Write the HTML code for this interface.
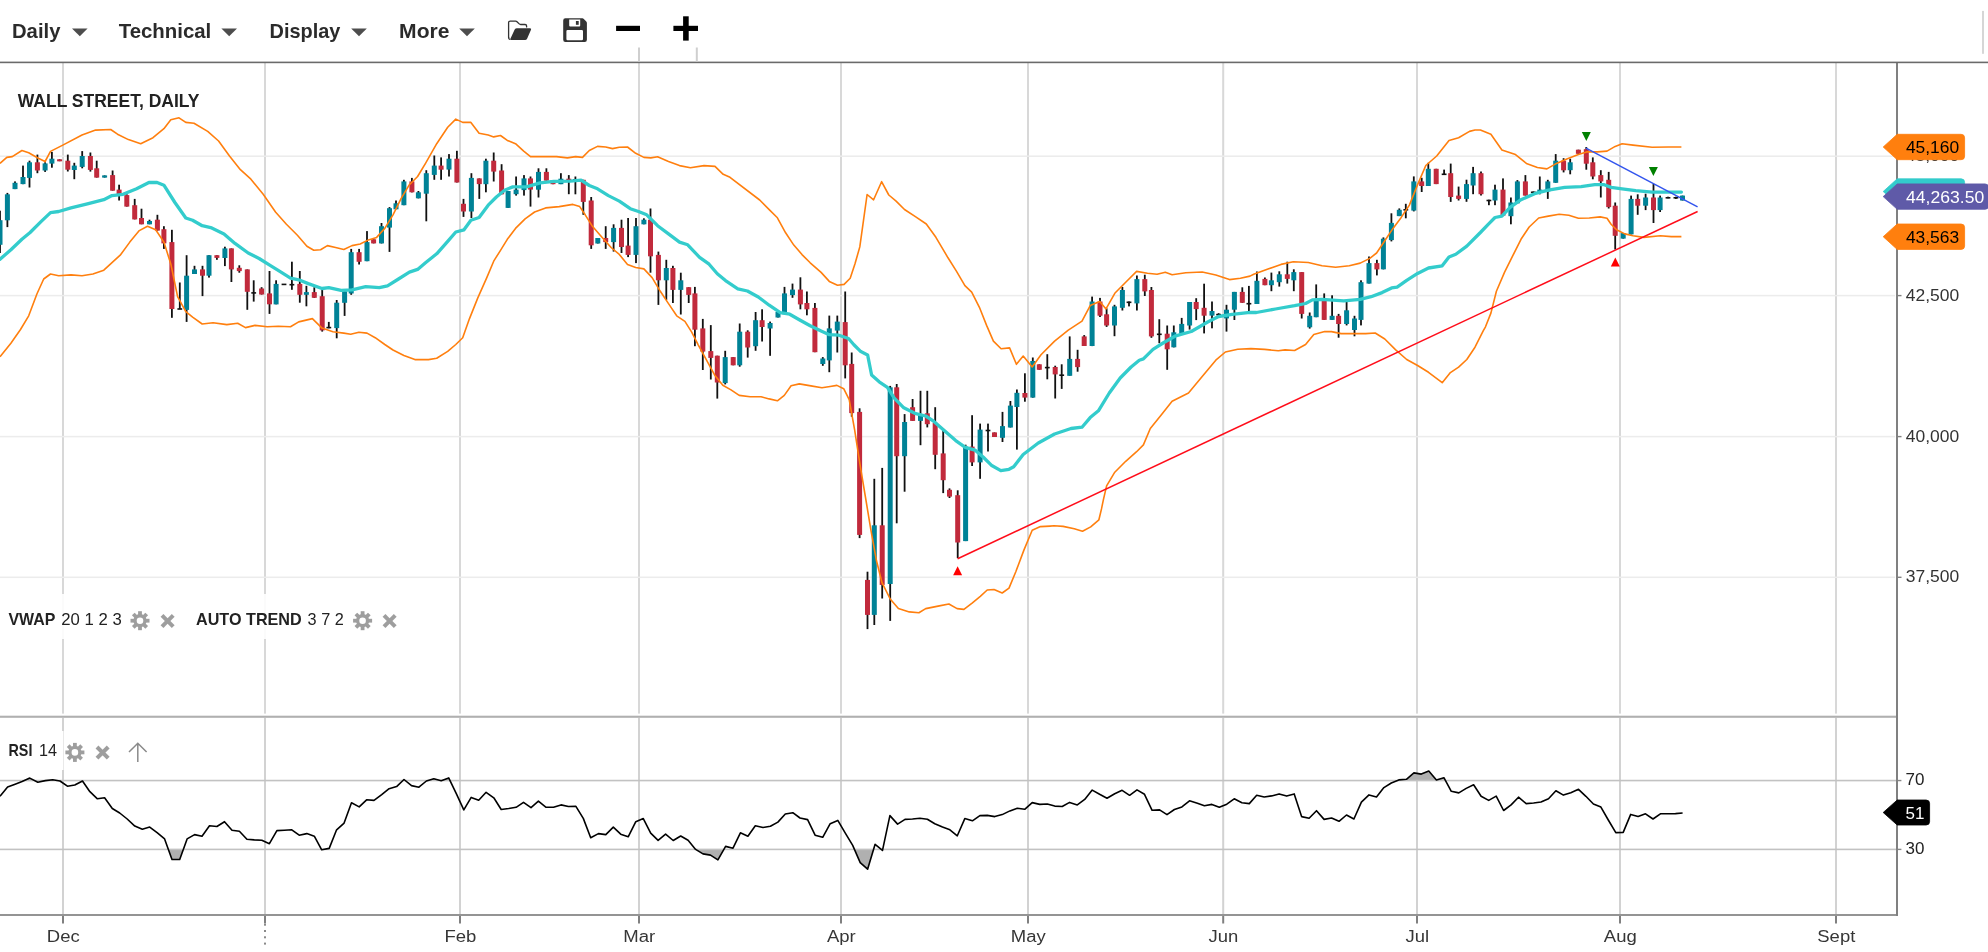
<!DOCTYPE html>
<html><head><meta charset="utf-8"><title>Wall Street Daily</title>
<style>
html,body{margin:0;padding:0;background:#fff;overflow:hidden;font-family:"Liberation Sans",sans-serif;}
svg text{font-family:"Liberation Sans",sans-serif;}
svg{will-change:transform;}
</style></head><body>
<svg width="1988" height="952" viewBox="0 0 1988 952" style="display:block;position:absolute;left:0;top:0">
<rect width="1988" height="952" fill="#fff"/>
<rect x="62" y="63" width="2" height="650.6" fill="#d8d8d8"/>
<rect x="62" y="717.8" width="2" height="196.2" fill="#d2d2d2"/>
<rect x="264" y="63" width="2" height="650.6" fill="#d8d8d8"/>
<rect x="264" y="717.8" width="2" height="196.2" fill="#d2d2d2"/>
<rect x="459" y="63" width="2" height="650.6" fill="#d8d8d8"/>
<rect x="459" y="717.8" width="2" height="196.2" fill="#d2d2d2"/>
<rect x="638" y="63" width="2" height="650.6" fill="#d8d8d8"/>
<rect x="638" y="717.8" width="2" height="196.2" fill="#d2d2d2"/>
<rect x="840" y="63" width="2" height="650.6" fill="#d8d8d8"/>
<rect x="840" y="717.8" width="2" height="196.2" fill="#d2d2d2"/>
<rect x="1027" y="63" width="2" height="650.6" fill="#d8d8d8"/>
<rect x="1027" y="717.8" width="2" height="196.2" fill="#d2d2d2"/>
<rect x="1222.2" y="63" width="2" height="650.6" fill="#d8d8d8"/>
<rect x="1222.2" y="717.8" width="2" height="196.2" fill="#d2d2d2"/>
<rect x="1416" y="63" width="2" height="650.6" fill="#d8d8d8"/>
<rect x="1416" y="717.8" width="2" height="196.2" fill="#d2d2d2"/>
<rect x="1619" y="63" width="2" height="650.6" fill="#d8d8d8"/>
<rect x="1619" y="717.8" width="2" height="196.2" fill="#d2d2d2"/>
<rect x="1835" y="63" width="2" height="650.6" fill="#d8d8d8"/>
<rect x="1835" y="717.8" width="2" height="196.2" fill="#d2d2d2"/>
<rect x="0" y="155.45" width="1895" height="1.5" fill="#ececec"/>
<rect x="0" y="294.85" width="1895" height="1.5" fill="#ececec"/>
<rect x="0" y="435.85" width="1895" height="1.5" fill="#ececec"/>
<rect x="0" y="576.55" width="1895" height="1.5" fill="#ececec"/>
<defs><clipPath id="cm"><rect x="0" y="63" width="1896" height="652"/></clipPath></defs>
<g clip-path="url(#cm)">
<rect x="-0.9" y="210.7" width="1.8" height="42.3" fill="#111"/>
<rect x="-2.5" y="220.2" width="5" height="24.6" fill="#008296"/>
<rect x="6.5" y="192.9" width="1.8" height="34.2" fill="#111"/>
<rect x="4.9" y="194.3" width="5" height="26.0" fill="#008296"/>
<rect x="14.1" y="181.4" width="1.8" height="7.7" fill="#111"/>
<rect x="12.5" y="182.8" width="5" height="6.3" fill="#008296"/>
<rect x="22.1" y="165.6" width="1.8" height="18.6" fill="#111"/>
<rect x="20.5" y="177.0" width="5" height="7.1" fill="#008296"/>
<rect x="28.6" y="160.7" width="1.8" height="26.8" fill="#111"/>
<rect x="27.0" y="162.3" width="5" height="15.6" fill="#008296"/>
<rect x="36.5" y="154.6" width="1.8" height="18.6" fill="#111"/>
<rect x="34.9" y="162.3" width="5" height="8.2" fill="#c12a3c"/>
<rect x="44.2" y="162.3" width="1.8" height="9.6" fill="#111"/>
<rect x="42.6" y="163.4" width="5" height="7.1" fill="#008296"/>
<rect x="51.0" y="151.9" width="1.8" height="15.8" fill="#111"/>
<rect x="49.4" y="158.7" width="5" height="4.9" fill="#008296"/>
<rect x="58.7" y="159.3" width="1.8" height="1.9" fill="#111"/>
<rect x="57.1" y="159.3" width="5" height="2.0" fill="#c12a3c"/>
<rect x="66.9" y="154.6" width="1.8" height="16.9" fill="#111"/>
<rect x="65.3" y="160.7" width="5" height="9.0" fill="#c12a3c"/>
<rect x="73.4" y="162.8" width="1.8" height="16.4" fill="#111"/>
<rect x="71.8" y="165.6" width="5" height="4.4" fill="#008296"/>
<rect x="81.3" y="151.1" width="1.8" height="17.2" fill="#111"/>
<rect x="79.7" y="156.0" width="5" height="10.9" fill="#008296"/>
<rect x="89.5" y="152.5" width="1.8" height="19.1" fill="#111"/>
<rect x="87.9" y="156.0" width="5" height="13.9" fill="#c12a3c"/>
<rect x="95.8" y="160.7" width="1.8" height="16.9" fill="#111"/>
<rect x="94.2" y="168.3" width="5" height="9.3" fill="#c12a3c"/>
<rect x="103.7" y="175.4" width="1.8" height="2.2" fill="#111"/>
<rect x="102.1" y="175.4" width="5" height="2.2" fill="#008296"/>
<rect x="111.7" y="170.5" width="1.8" height="20.2" fill="#111"/>
<rect x="110.1" y="175.1" width="5" height="15.6" fill="#c12a3c"/>
<rect x="118.2" y="184.7" width="1.8" height="15.8" fill="#111"/>
<rect x="116.6" y="189.6" width="5" height="4.6" fill="#c12a3c"/>
<rect x="125.9" y="194.3" width="1.8" height="12.3" fill="#111"/>
<rect x="124.3" y="195.1" width="5" height="11.5" fill="#c12a3c"/>
<rect x="133.8" y="198.9" width="1.8" height="20.5" fill="#111"/>
<rect x="132.2" y="205.2" width="5" height="14.2" fill="#c12a3c"/>
<rect x="140.6" y="208.7" width="1.8" height="15.6" fill="#111"/>
<rect x="139.0" y="218.0" width="5" height="6.3" fill="#c12a3c"/>
<rect x="148.6" y="219.7" width="1.8" height="4.6" fill="#111"/>
<rect x="147.0" y="221.0" width="5" height="3.3" fill="#008296"/>
<rect x="156.5" y="214.8" width="1.8" height="15.8" fill="#111"/>
<rect x="154.9" y="219.7" width="5" height="10.9" fill="#c12a3c"/>
<rect x="163.0" y="226.2" width="1.8" height="22.7" fill="#111"/>
<rect x="161.4" y="229.2" width="5" height="14.2" fill="#c12a3c"/>
<rect x="171.0" y="229.8" width="1.8" height="88.0" fill="#111"/>
<rect x="169.4" y="242.1" width="5" height="66.9" fill="#c12a3c"/>
<rect x="178.9" y="282.5" width="1.8" height="26.5" fill="#111"/>
<rect x="177.4" y="308.2" width="4.8" height="1.6" fill="#111"/>
<rect x="185.7" y="255.2" width="1.8" height="66.7" fill="#111"/>
<rect x="184.1" y="275.7" width="5" height="34.2" fill="#008296"/>
<rect x="193.6" y="265.8" width="1.8" height="8.2" fill="#111"/>
<rect x="192.0" y="269.4" width="5" height="4.6" fill="#008296"/>
<rect x="201.6" y="265.8" width="1.8" height="30.3" fill="#111"/>
<rect x="200.0" y="269.4" width="5" height="6.3" fill="#c12a3c"/>
<rect x="208.1" y="255.2" width="1.8" height="22.4" fill="#111"/>
<rect x="206.5" y="255.2" width="5" height="20.5" fill="#008296"/>
<rect x="216.0" y="255.2" width="1.8" height="4.6" fill="#111"/>
<rect x="214.4" y="255.2" width="5" height="2.7" fill="#c12a3c"/>
<rect x="224.0" y="246.7" width="1.8" height="19.4" fill="#111"/>
<rect x="222.4" y="248.4" width="5" height="9.6" fill="#008296"/>
<rect x="230.5" y="248.4" width="1.8" height="33.6" fill="#111"/>
<rect x="228.9" y="248.4" width="5" height="21.0" fill="#c12a3c"/>
<rect x="238.4" y="265.3" width="1.8" height="7.4" fill="#111"/>
<rect x="236.8" y="267.8" width="5" height="3.3" fill="#c12a3c"/>
<rect x="246.4" y="269.4" width="1.8" height="40.4" fill="#111"/>
<rect x="244.8" y="269.4" width="5" height="22.4" fill="#c12a3c"/>
<rect x="252.8" y="280.3" width="1.8" height="21.3" fill="#111"/>
<rect x="251.3" y="292.1" width="4.8" height="1.6" fill="#111"/>
<rect x="260.7" y="287.2" width="1.8" height="7.4" fill="#111"/>
<rect x="259.1" y="288.5" width="5" height="6.0" fill="#c12a3c"/>
<rect x="268.6" y="271.0" width="1.8" height="42.9" fill="#111"/>
<rect x="267.0" y="293.4" width="5" height="10.9" fill="#c12a3c"/>
<rect x="275.2" y="280.3" width="1.8" height="24.0" fill="#111"/>
<rect x="273.6" y="283.9" width="5" height="20.5" fill="#008296"/>
<rect x="281.6" y="283.6" width="4.8" height="1.6" fill="#111"/>
<rect x="291.0" y="261.7" width="1.8" height="28.1" fill="#111"/>
<rect x="289.5" y="283.9" width="4.8" height="1.6" fill="#111"/>
<rect x="298.9" y="271.0" width="1.8" height="31.7" fill="#111"/>
<rect x="297.3" y="283.9" width="5" height="10.9" fill="#c12a3c"/>
<rect x="305.5" y="285.8" width="1.8" height="20.5" fill="#111"/>
<rect x="303.9" y="292.1" width="5" height="2.7" fill="#008296"/>
<rect x="313.4" y="287.2" width="1.8" height="10.7" fill="#111"/>
<rect x="311.8" y="292.1" width="5" height="5.7" fill="#c12a3c"/>
<rect x="321.3" y="289.3" width="1.8" height="42.3" fill="#111"/>
<rect x="319.7" y="296.2" width="5" height="34.2" fill="#c12a3c"/>
<rect x="327.9" y="321.9" width="1.8" height="6.3" fill="#111"/>
<rect x="326.4" y="326.8" width="4.8" height="1.6" fill="#111"/>
<rect x="335.8" y="300.0" width="1.8" height="38.3" fill="#111"/>
<rect x="334.2" y="302.7" width="5" height="25.4" fill="#008296"/>
<rect x="343.7" y="291.3" width="1.8" height="24.6" fill="#111"/>
<rect x="342.1" y="291.3" width="5" height="11.5" fill="#008296"/>
<rect x="350.3" y="248.9" width="1.8" height="45.9" fill="#111"/>
<rect x="348.7" y="252.2" width="5" height="41.3" fill="#008296"/>
<rect x="358.2" y="248.9" width="1.8" height="15.6" fill="#111"/>
<rect x="356.6" y="252.2" width="5" height="9.6" fill="#c12a3c"/>
<rect x="366.1" y="231.1" width="1.8" height="30.1" fill="#111"/>
<rect x="364.5" y="242.1" width="5" height="19.1" fill="#008296"/>
<rect x="372.7" y="239.3" width="1.8" height="4.1" fill="#111"/>
<rect x="371.1" y="239.3" width="5" height="4.1" fill="#c12a3c"/>
<rect x="380.6" y="223.0" width="1.8" height="20.5" fill="#111"/>
<rect x="379.0" y="226.2" width="5" height="17.2" fill="#008296"/>
<rect x="388.6" y="207.1" width="1.8" height="44.8" fill="#111"/>
<rect x="387.0" y="208.2" width="5" height="19.4" fill="#008296"/>
<rect x="395.1" y="200.5" width="1.8" height="8.7" fill="#111"/>
<rect x="393.5" y="203.3" width="5" height="6.0" fill="#008296"/>
<rect x="403.0" y="179.8" width="1.8" height="25.4" fill="#111"/>
<rect x="401.4" y="181.4" width="5" height="23.8" fill="#008296"/>
<rect x="411.0" y="177.9" width="1.8" height="14.5" fill="#111"/>
<rect x="409.4" y="181.4" width="5" height="10.9" fill="#c12a3c"/>
<rect x="417.5" y="191.0" width="1.8" height="7.4" fill="#111"/>
<rect x="415.9" y="192.3" width="5" height="6.0" fill="#008296"/>
<rect x="425.4" y="170.2" width="1.8" height="51.1" fill="#111"/>
<rect x="423.8" y="173.2" width="5" height="20.5" fill="#008296"/>
<rect x="433.4" y="155.5" width="1.8" height="24.3" fill="#111"/>
<rect x="431.8" y="165.6" width="5" height="9.3" fill="#008296"/>
<rect x="440.2" y="157.4" width="1.8" height="22.4" fill="#111"/>
<rect x="438.6" y="165.6" width="5" height="4.1" fill="#c12a3c"/>
<rect x="448.1" y="154.1" width="1.8" height="22.4" fill="#111"/>
<rect x="446.5" y="158.7" width="5" height="10.9" fill="#008296"/>
<rect x="456.0" y="150.8" width="1.8" height="31.7" fill="#111"/>
<rect x="454.4" y="158.7" width="5" height="23.8" fill="#c12a3c"/>
<rect x="462.6" y="198.9" width="1.8" height="18.0" fill="#111"/>
<rect x="461.0" y="203.8" width="5" height="7.7" fill="#c12a3c"/>
<rect x="470.5" y="173.2" width="1.8" height="44.8" fill="#111"/>
<rect x="468.9" y="177.9" width="5" height="33.6" fill="#008296"/>
<rect x="478.4" y="178.4" width="1.8" height="20.5" fill="#111"/>
<rect x="476.8" y="178.4" width="5" height="5.7" fill="#c12a3c"/>
<rect x="485.0" y="158.7" width="1.8" height="33.6" fill="#111"/>
<rect x="483.4" y="160.7" width="5" height="23.5" fill="#008296"/>
<rect x="492.8" y="152.5" width="1.8" height="29.0" fill="#111"/>
<rect x="491.2" y="160.7" width="5" height="10.9" fill="#c12a3c"/>
<rect x="500.7" y="164.2" width="1.8" height="30.1" fill="#111"/>
<rect x="499.1" y="170.5" width="5" height="23.8" fill="#c12a3c"/>
<rect x="507.2" y="191.0" width="1.8" height="16.9" fill="#111"/>
<rect x="505.6" y="191.0" width="5" height="16.9" fill="#008296"/>
<rect x="515.2" y="176.5" width="1.8" height="19.1" fill="#111"/>
<rect x="513.6" y="189.6" width="5" height="4.6" fill="#008296"/>
<rect x="523.1" y="175.1" width="1.8" height="20.5" fill="#111"/>
<rect x="521.5" y="178.4" width="5" height="11.7" fill="#008296"/>
<rect x="529.6" y="176.5" width="1.8" height="30.1" fill="#111"/>
<rect x="528.0" y="178.4" width="5" height="11.2" fill="#c12a3c"/>
<rect x="537.6" y="168.3" width="1.8" height="29.2" fill="#111"/>
<rect x="536.0" y="171.9" width="5" height="17.8" fill="#008296"/>
<rect x="545.5" y="168.3" width="1.8" height="12.3" fill="#111"/>
<rect x="543.9" y="171.9" width="5" height="8.7" fill="#c12a3c"/>
<rect x="552.1" y="180.1" width="1.8" height="4.1" fill="#111"/>
<rect x="550.5" y="180.1" width="5" height="4.1" fill="#c12a3c"/>
<rect x="560.0" y="173.2" width="1.8" height="10.9" fill="#111"/>
<rect x="558.4" y="178.7" width="5" height="5.5" fill="#008296"/>
<rect x="567.9" y="175.1" width="1.8" height="19.1" fill="#111"/>
<rect x="566.3" y="178.7" width="5" height="2.0" fill="#c12a3c"/>
<rect x="574.5" y="176.5" width="1.8" height="17.8" fill="#111"/>
<rect x="573.0" y="179.0" width="4.8" height="1.6" fill="#111"/>
<rect x="582.4" y="179.8" width="1.8" height="35.0" fill="#111"/>
<rect x="580.8" y="179.8" width="5" height="22.1" fill="#c12a3c"/>
<rect x="590.3" y="197.0" width="1.8" height="51.9" fill="#111"/>
<rect x="588.7" y="200.5" width="5" height="44.8" fill="#c12a3c"/>
<rect x="596.9" y="238.0" width="1.8" height="5.5" fill="#111"/>
<rect x="595.3" y="238.0" width="5" height="5.5" fill="#008296"/>
<rect x="604.8" y="226.2" width="1.8" height="22.7" fill="#111"/>
<rect x="603.2" y="238.0" width="5" height="4.1" fill="#c12a3c"/>
<rect x="612.7" y="224.3" width="1.8" height="27.3" fill="#111"/>
<rect x="611.1" y="227.9" width="5" height="14.2" fill="#008296"/>
<rect x="620.6" y="219.7" width="1.8" height="33.3" fill="#111"/>
<rect x="619.0" y="227.9" width="5" height="19.1" fill="#c12a3c"/>
<rect x="627.2" y="218.0" width="1.8" height="39.1" fill="#111"/>
<rect x="625.6" y="245.6" width="5" height="9.3" fill="#c12a3c"/>
<rect x="635.1" y="218.0" width="1.8" height="45.1" fill="#111"/>
<rect x="633.5" y="226.2" width="5" height="28.7" fill="#008296"/>
<rect x="643.0" y="218.3" width="1.8" height="6.0" fill="#111"/>
<rect x="641.4" y="219.7" width="5" height="4.6" fill="#008296"/>
<rect x="649.6" y="208.5" width="1.8" height="64.2" fill="#111"/>
<rect x="648.0" y="219.7" width="5" height="36.6" fill="#c12a3c"/>
<rect x="657.5" y="251.6" width="1.8" height="53.3" fill="#111"/>
<rect x="655.9" y="254.9" width="5" height="25.4" fill="#c12a3c"/>
<rect x="665.4" y="259.8" width="1.8" height="40.2" fill="#111"/>
<rect x="663.8" y="268.0" width="5" height="12.3" fill="#008296"/>
<rect x="672.0" y="265.8" width="1.8" height="37.2" fill="#111"/>
<rect x="670.4" y="268.0" width="5" height="21.9" fill="#c12a3c"/>
<rect x="679.9" y="272.7" width="1.8" height="41.8" fill="#111"/>
<rect x="678.3" y="280.3" width="5" height="9.6" fill="#008296"/>
<rect x="687.8" y="287.2" width="1.8" height="15.8" fill="#111"/>
<rect x="686.2" y="287.2" width="5" height="7.7" fill="#c12a3c"/>
<rect x="694.0" y="286.9" width="1.8" height="59.3" fill="#111"/>
<rect x="692.4" y="293.4" width="5" height="36.3" fill="#c12a3c"/>
<rect x="701.9" y="318.9" width="1.8" height="51.1" fill="#111"/>
<rect x="700.3" y="328.4" width="5" height="23.2" fill="#c12a3c"/>
<rect x="709.9" y="325.1" width="1.8" height="54.4" fill="#111"/>
<rect x="708.3" y="351.1" width="5" height="6.8" fill="#c12a3c"/>
<rect x="716.4" y="355.7" width="1.8" height="42.9" fill="#111"/>
<rect x="714.8" y="355.7" width="5" height="26.8" fill="#c12a3c"/>
<rect x="724.3" y="350.8" width="1.8" height="33.6" fill="#111"/>
<rect x="722.7" y="357.1" width="5" height="26.0" fill="#008296"/>
<rect x="732.3" y="357.1" width="1.8" height="8.2" fill="#111"/>
<rect x="730.7" y="357.1" width="5" height="8.2" fill="#c12a3c"/>
<rect x="738.8" y="323.5" width="1.8" height="43.2" fill="#111"/>
<rect x="737.2" y="331.7" width="5" height="33.6" fill="#008296"/>
<rect x="746.8" y="330.3" width="1.8" height="27.3" fill="#111"/>
<rect x="745.2" y="331.7" width="5" height="15.8" fill="#c12a3c"/>
<rect x="754.7" y="312.0" width="1.8" height="38.8" fill="#111"/>
<rect x="753.1" y="320.2" width="5" height="26.0" fill="#008296"/>
<rect x="761.2" y="309.3" width="1.8" height="32.2" fill="#111"/>
<rect x="759.6" y="320.2" width="5" height="6.8" fill="#c12a3c"/>
<rect x="769.2" y="321.6" width="1.8" height="34.2" fill="#111"/>
<rect x="767.6" y="323.0" width="5" height="5.5" fill="#008296"/>
<rect x="777.1" y="312.0" width="1.8" height="5.5" fill="#111"/>
<rect x="775.5" y="312.0" width="5" height="5.5" fill="#008296"/>
<rect x="783.6" y="286.9" width="1.8" height="27.3" fill="#111"/>
<rect x="782.0" y="293.4" width="5" height="20.8" fill="#008296"/>
<rect x="791.6" y="283.6" width="1.8" height="14.2" fill="#111"/>
<rect x="790.0" y="289.6" width="5" height="5.5" fill="#008296"/>
<rect x="799.5" y="277.3" width="1.8" height="32.0" fill="#111"/>
<rect x="797.9" y="289.6" width="5" height="14.8" fill="#c12a3c"/>
<rect x="806.0" y="291.5" width="1.8" height="23.8" fill="#111"/>
<rect x="804.4" y="303.0" width="5" height="6.3" fill="#c12a3c"/>
<rect x="814.0" y="303.0" width="1.8" height="49.2" fill="#111"/>
<rect x="812.4" y="307.9" width="5" height="44.3" fill="#c12a3c"/>
<rect x="821.9" y="357.1" width="1.8" height="8.7" fill="#111"/>
<rect x="820.3" y="358.5" width="5" height="5.5" fill="#008296"/>
<rect x="828.4" y="315.6" width="1.8" height="56.6" fill="#111"/>
<rect x="826.8" y="328.4" width="5" height="32.0" fill="#008296"/>
<rect x="836.4" y="315.6" width="1.8" height="36.9" fill="#111"/>
<rect x="834.8" y="321.6" width="5" height="9.0" fill="#008296"/>
<rect x="844.3" y="291.5" width="1.8" height="86.9" fill="#111"/>
<rect x="842.7" y="322.1" width="5" height="43.2" fill="#c12a3c"/>
<rect x="850.8" y="352.5" width="1.8" height="64.2" fill="#111"/>
<rect x="849.2" y="363.9" width="5" height="49.2" fill="#c12a3c"/>
<rect x="858.7" y="408.3" width="1.8" height="129.8" fill="#111"/>
<rect x="857.1" y="411.9" width="5" height="123.0" fill="#c12a3c"/>
<rect x="866.6" y="571.7" width="1.8" height="57.4" fill="#111"/>
<rect x="865.0" y="579.9" width="5" height="35.0" fill="#c12a3c"/>
<rect x="873.4" y="478.8" width="1.8" height="146.2" fill="#111"/>
<rect x="871.8" y="525.3" width="5" height="89.6" fill="#008296"/>
<rect x="881.3" y="467.9" width="1.8" height="130.6" fill="#111"/>
<rect x="879.7" y="525.3" width="5" height="59.6" fill="#c12a3c"/>
<rect x="889.3" y="385.9" width="1.8" height="235.0" fill="#111"/>
<rect x="887.7" y="387.3" width="5" height="196.7" fill="#008296"/>
<rect x="895.8" y="384.0" width="1.8" height="139.3" fill="#111"/>
<rect x="894.2" y="387.3" width="5" height="68.9" fill="#c12a3c"/>
<rect x="903.7" y="414.1" width="1.8" height="77.6" fill="#111"/>
<rect x="902.1" y="422.0" width="5" height="34.2" fill="#008296"/>
<rect x="911.7" y="399.0" width="1.8" height="21.9" fill="#111"/>
<rect x="910.1" y="407.2" width="5" height="13.7" fill="#c12a3c"/>
<rect x="919.6" y="390.8" width="1.8" height="54.4" fill="#111"/>
<rect x="918.0" y="414.6" width="5" height="6.3" fill="#008296"/>
<rect x="926.4" y="390.8" width="1.8" height="36.6" fill="#111"/>
<rect x="924.8" y="413.3" width="5" height="10.9" fill="#c12a3c"/>
<rect x="934.3" y="407.2" width="1.8" height="62.0" fill="#111"/>
<rect x="932.7" y="422.8" width="5" height="32.0" fill="#c12a3c"/>
<rect x="942.3" y="430.5" width="1.8" height="62.6" fill="#111"/>
<rect x="940.7" y="453.4" width="5" height="26.8" fill="#c12a3c"/>
<rect x="948.6" y="488.4" width="1.8" height="9.6" fill="#111"/>
<rect x="947.0" y="489.8" width="5" height="6.8" fill="#c12a3c"/>
<rect x="956.8" y="490.3" width="1.8" height="67.8" fill="#111"/>
<rect x="955.2" y="495.2" width="5" height="47.3" fill="#c12a3c"/>
<rect x="964.7" y="444.7" width="1.8" height="96.4" fill="#111"/>
<rect x="963.1" y="446.6" width="5" height="94.5" fill="#008296"/>
<rect x="971.2" y="415.2" width="1.8" height="50.8" fill="#111"/>
<rect x="969.6" y="446.6" width="5" height="15.8" fill="#c12a3c"/>
<rect x="979.2" y="423.6" width="1.8" height="55.2" fill="#111"/>
<rect x="977.6" y="429.6" width="5" height="32.8" fill="#008296"/>
<rect x="987.1" y="423.6" width="1.8" height="27.9" fill="#111"/>
<rect x="985.6" y="429.7" width="4.8" height="1.6" fill="#111"/>
<rect x="993.6" y="432.4" width="1.8" height="4.6" fill="#111"/>
<rect x="992.0" y="432.4" width="5" height="4.6" fill="#c12a3c"/>
<rect x="1001.6" y="411.9" width="1.8" height="30.1" fill="#111"/>
<rect x="1000.0" y="426.1" width="5" height="11.7" fill="#008296"/>
<rect x="1009.5" y="401.0" width="1.8" height="26.5" fill="#111"/>
<rect x="1007.9" y="405.6" width="5" height="21.9" fill="#008296"/>
<rect x="1016.0" y="389.5" width="1.8" height="60.1" fill="#111"/>
<rect x="1014.4" y="392.8" width="5" height="14.2" fill="#008296"/>
<rect x="1024.0" y="373.3" width="1.8" height="28.4" fill="#111"/>
<rect x="1022.4" y="393.0" width="5" height="4.6" fill="#c12a3c"/>
<rect x="1031.9" y="357.5" width="1.8" height="40.2" fill="#111"/>
<rect x="1030.3" y="361.0" width="5" height="36.6" fill="#008296"/>
<rect x="1038.4" y="364.3" width="1.8" height="5.5" fill="#111"/>
<rect x="1036.8" y="364.3" width="5" height="5.5" fill="#c12a3c"/>
<rect x="1046.4" y="354.2" width="1.8" height="25.1" fill="#111"/>
<rect x="1044.9" y="366.8" width="4.8" height="1.6" fill="#111"/>
<rect x="1054.3" y="365.7" width="1.8" height="32.8" fill="#111"/>
<rect x="1052.7" y="367.0" width="5" height="7.4" fill="#c12a3c"/>
<rect x="1060.8" y="364.3" width="1.8" height="24.6" fill="#111"/>
<rect x="1059.3" y="374.4" width="4.8" height="1.6" fill="#111"/>
<rect x="1068.8" y="336.4" width="1.8" height="39.3" fill="#111"/>
<rect x="1067.2" y="358.9" width="5" height="16.9" fill="#008296"/>
<rect x="1076.7" y="349.8" width="1.8" height="21.9" fill="#111"/>
<rect x="1075.1" y="358.9" width="5" height="8.2" fill="#c12a3c"/>
<rect x="1083.3" y="335.1" width="1.8" height="10.9" fill="#111"/>
<rect x="1081.7" y="336.4" width="5" height="9.6" fill="#c12a3c"/>
<rect x="1091.2" y="296.6" width="1.8" height="49.5" fill="#111"/>
<rect x="1089.6" y="301.5" width="5" height="44.5" fill="#008296"/>
<rect x="1099.1" y="297.9" width="1.8" height="19.1" fill="#111"/>
<rect x="1097.5" y="301.5" width="5" height="14.2" fill="#c12a3c"/>
<rect x="1105.7" y="308.3" width="1.8" height="18.6" fill="#111"/>
<rect x="1104.1" y="314.3" width="5" height="11.2" fill="#c12a3c"/>
<rect x="1113.6" y="304.8" width="1.8" height="31.4" fill="#111"/>
<rect x="1112.0" y="306.4" width="5" height="19.1" fill="#008296"/>
<rect x="1121.5" y="287.0" width="1.8" height="23.5" fill="#111"/>
<rect x="1119.9" y="290.0" width="5" height="17.8" fill="#008296"/>
<rect x="1128.1" y="301.5" width="1.8" height="4.9" fill="#111"/>
<rect x="1126.6" y="301.5" width="4.8" height="1.6" fill="#111"/>
<rect x="1136.0" y="275.5" width="1.8" height="35.0" fill="#111"/>
<rect x="1134.4" y="279.1" width="5" height="24.3" fill="#008296"/>
<rect x="1143.9" y="274.7" width="1.8" height="21.3" fill="#111"/>
<rect x="1142.3" y="279.1" width="5" height="12.3" fill="#c12a3c"/>
<rect x="1150.5" y="287.0" width="1.8" height="50.8" fill="#111"/>
<rect x="1148.9" y="290.0" width="5" height="46.4" fill="#c12a3c"/>
<rect x="1158.4" y="319.2" width="1.8" height="24.0" fill="#111"/>
<rect x="1156.9" y="333.5" width="4.8" height="1.6" fill="#111"/>
<rect x="1166.3" y="325.5" width="1.8" height="44.3" fill="#111"/>
<rect x="1164.7" y="333.7" width="5" height="15.6" fill="#c12a3c"/>
<rect x="1172.9" y="325.5" width="1.8" height="21.9" fill="#111"/>
<rect x="1171.3" y="332.3" width="5" height="15.0" fill="#008296"/>
<rect x="1180.8" y="317.9" width="1.8" height="15.8" fill="#111"/>
<rect x="1179.2" y="323.9" width="5" height="9.8" fill="#008296"/>
<rect x="1188.7" y="302.0" width="1.8" height="27.6" fill="#111"/>
<rect x="1187.1" y="302.0" width="5" height="23.5" fill="#008296"/>
<rect x="1195.3" y="298.2" width="1.8" height="21.9" fill="#111"/>
<rect x="1193.7" y="302.0" width="5" height="7.1" fill="#c12a3c"/>
<rect x="1203.2" y="283.7" width="1.8" height="49.7" fill="#111"/>
<rect x="1201.6" y="307.8" width="5" height="7.9" fill="#c12a3c"/>
<rect x="1211.1" y="301.5" width="1.8" height="26.8" fill="#111"/>
<rect x="1209.5" y="311.0" width="5" height="4.6" fill="#008296"/>
<rect x="1217.7" y="313.2" width="1.8" height="3.3" fill="#111"/>
<rect x="1216.2" y="313.8" width="4.8" height="1.6" fill="#111"/>
<rect x="1225.6" y="304.8" width="1.8" height="26.8" fill="#111"/>
<rect x="1224.0" y="309.7" width="5" height="8.7" fill="#008296"/>
<rect x="1233.5" y="291.9" width="1.8" height="28.1" fill="#111"/>
<rect x="1231.9" y="291.9" width="5" height="17.8" fill="#008296"/>
<rect x="1241.4" y="287.3" width="1.8" height="15.6" fill="#111"/>
<rect x="1239.8" y="291.9" width="5" height="10.9" fill="#c12a3c"/>
<rect x="1248.0" y="285.9" width="1.8" height="25.1" fill="#111"/>
<rect x="1246.5" y="302.9" width="4.8" height="1.6" fill="#111"/>
<rect x="1256.0" y="271.5" width="1.8" height="32.5" fill="#111"/>
<rect x="1254.4" y="280.8" width="5" height="23.2" fill="#008296"/>
<rect x="1264.0" y="277.5" width="1.8" height="7.7" fill="#111"/>
<rect x="1262.4" y="278.9" width="5" height="6.3" fill="#c12a3c"/>
<rect x="1270.5" y="272.6" width="1.8" height="18.6" fill="#111"/>
<rect x="1268.9" y="280.3" width="5" height="4.9" fill="#008296"/>
<rect x="1278.4" y="271.3" width="1.8" height="15.3" fill="#111"/>
<rect x="1276.8" y="274.3" width="5" height="7.9" fill="#008296"/>
<rect x="1286.4" y="261.7" width="1.8" height="21.9" fill="#111"/>
<rect x="1284.8" y="274.3" width="5" height="4.6" fill="#c12a3c"/>
<rect x="1292.9" y="269.3" width="1.8" height="21.9" fill="#111"/>
<rect x="1291.3" y="272.1" width="5" height="8.2" fill="#008296"/>
<rect x="1300.8" y="272.1" width="1.8" height="46.4" fill="#111"/>
<rect x="1299.2" y="272.1" width="5" height="41.8" fill="#c12a3c"/>
<rect x="1308.8" y="312.5" width="1.8" height="16.1" fill="#111"/>
<rect x="1307.2" y="315.8" width="5" height="11.5" fill="#008296"/>
<rect x="1315.3" y="284.4" width="1.8" height="32.8" fill="#111"/>
<rect x="1313.7" y="300.8" width="5" height="16.4" fill="#008296"/>
<rect x="1323.3" y="293.4" width="1.8" height="26.5" fill="#111"/>
<rect x="1321.7" y="300.8" width="5" height="19.1" fill="#c12a3c"/>
<rect x="1331.2" y="295.3" width="1.8" height="24.6" fill="#111"/>
<rect x="1329.6" y="315.8" width="5" height="4.1" fill="#008296"/>
<rect x="1337.7" y="313.9" width="1.8" height="23.8" fill="#111"/>
<rect x="1336.1" y="315.8" width="5" height="8.2" fill="#c12a3c"/>
<rect x="1345.7" y="301.6" width="1.8" height="23.8" fill="#111"/>
<rect x="1344.1" y="310.3" width="5" height="13.7" fill="#008296"/>
<rect x="1353.6" y="315.8" width="1.8" height="20.5" fill="#111"/>
<rect x="1352.0" y="318.5" width="5" height="11.5" fill="#008296"/>
<rect x="1360.1" y="280.3" width="1.8" height="45.1" fill="#111"/>
<rect x="1358.5" y="282.2" width="5" height="37.7" fill="#008296"/>
<rect x="1368.1" y="256.5" width="1.8" height="27.0" fill="#111"/>
<rect x="1366.5" y="263.1" width="5" height="20.5" fill="#008296"/>
<rect x="1376.0" y="259.8" width="1.8" height="15.6" fill="#111"/>
<rect x="1374.4" y="263.1" width="5" height="6.3" fill="#c12a3c"/>
<rect x="1382.5" y="237.4" width="1.8" height="32.0" fill="#111"/>
<rect x="1380.9" y="238.7" width="5" height="30.6" fill="#008296"/>
<rect x="1390.5" y="213.3" width="1.8" height="28.1" fill="#111"/>
<rect x="1388.9" y="222.9" width="5" height="17.2" fill="#008296"/>
<rect x="1398.4" y="208.4" width="1.8" height="7.7" fill="#111"/>
<rect x="1396.8" y="209.8" width="5" height="6.3" fill="#008296"/>
<rect x="1404.9" y="203.8" width="1.8" height="14.5" fill="#111"/>
<rect x="1403.4" y="209.0" width="4.8" height="1.6" fill="#111"/>
<rect x="1412.9" y="176.4" width="1.8" height="35.0" fill="#111"/>
<rect x="1411.3" y="181.4" width="5" height="29.2" fill="#008296"/>
<rect x="1420.8" y="177.8" width="1.8" height="14.2" fill="#111"/>
<rect x="1419.2" y="181.4" width="5" height="4.6" fill="#c12a3c"/>
<rect x="1427.4" y="162.8" width="1.8" height="23.2" fill="#111"/>
<rect x="1425.8" y="168.8" width="5" height="17.2" fill="#008296"/>
<rect x="1435.3" y="168.8" width="1.8" height="15.3" fill="#111"/>
<rect x="1433.7" y="168.8" width="5" height="15.3" fill="#c12a3c"/>
<rect x="1443.2" y="169.6" width="1.8" height="4.6" fill="#111"/>
<rect x="1441.7" y="173.5" width="4.8" height="1.6" fill="#111"/>
<rect x="1449.8" y="163.6" width="1.8" height="38.3" fill="#111"/>
<rect x="1448.2" y="173.2" width="5" height="23.8" fill="#c12a3c"/>
<rect x="1457.7" y="186.6" width="1.8" height="13.9" fill="#111"/>
<rect x="1456.1" y="195.6" width="5" height="3.3" fill="#c12a3c"/>
<rect x="1465.6" y="179.7" width="1.8" height="22.1" fill="#111"/>
<rect x="1464.0" y="184.1" width="5" height="14.8" fill="#008296"/>
<rect x="1472.2" y="166.9" width="1.8" height="27.3" fill="#111"/>
<rect x="1470.6" y="173.2" width="5" height="12.3" fill="#008296"/>
<rect x="1480.1" y="171.5" width="1.8" height="24.0" fill="#111"/>
<rect x="1478.5" y="173.2" width="5" height="21.0" fill="#c12a3c"/>
<rect x="1488.0" y="199.7" width="1.8" height="5.5" fill="#111"/>
<rect x="1486.5" y="199.7" width="4.8" height="1.6" fill="#111"/>
<rect x="1494.1" y="184.7" width="1.8" height="20.5" fill="#111"/>
<rect x="1492.5" y="189.6" width="5" height="10.9" fill="#008296"/>
<rect x="1502.1" y="178.4" width="1.8" height="37.2" fill="#111"/>
<rect x="1500.5" y="189.6" width="5" height="26.0" fill="#c12a3c"/>
<rect x="1510.0" y="197.5" width="1.8" height="26.8" fill="#111"/>
<rect x="1508.4" y="202.5" width="5" height="13.7" fill="#008296"/>
<rect x="1516.5" y="180.1" width="1.8" height="23.2" fill="#111"/>
<rect x="1514.9" y="181.4" width="5" height="21.9" fill="#008296"/>
<rect x="1524.5" y="175.1" width="1.8" height="20.5" fill="#111"/>
<rect x="1522.9" y="181.4" width="5" height="14.2" fill="#c12a3c"/>
<rect x="1532.4" y="191.5" width="1.8" height="1.9" fill="#111"/>
<rect x="1530.9" y="191.5" width="4.8" height="1.6" fill="#111"/>
<rect x="1538.9" y="176.5" width="1.8" height="17.8" fill="#111"/>
<rect x="1537.3" y="189.6" width="5" height="2.7" fill="#008296"/>
<rect x="1546.9" y="179.8" width="1.8" height="19.1" fill="#111"/>
<rect x="1545.3" y="181.4" width="5" height="10.1" fill="#008296"/>
<rect x="1554.8" y="154.1" width="1.8" height="28.7" fill="#111"/>
<rect x="1553.2" y="160.7" width="5" height="22.1" fill="#008296"/>
<rect x="1562.7" y="158.2" width="1.8" height="14.2" fill="#111"/>
<rect x="1561.1" y="160.7" width="5" height="9.6" fill="#c12a3c"/>
<rect x="1569.3" y="158.7" width="1.8" height="15.6" fill="#111"/>
<rect x="1567.7" y="162.3" width="5" height="7.9" fill="#008296"/>
<rect x="1577.5" y="149.7" width="1.8" height="4.1" fill="#111"/>
<rect x="1575.9" y="149.7" width="5" height="4.1" fill="#c12a3c"/>
<rect x="1585.4" y="147.0" width="1.8" height="22.7" fill="#111"/>
<rect x="1583.8" y="149.2" width="5" height="14.5" fill="#c12a3c"/>
<rect x="1591.9" y="157.4" width="1.8" height="21.9" fill="#111"/>
<rect x="1590.3" y="162.3" width="5" height="14.2" fill="#c12a3c"/>
<rect x="1599.9" y="170.2" width="1.8" height="27.3" fill="#111"/>
<rect x="1598.3" y="175.1" width="5" height="6.3" fill="#c12a3c"/>
<rect x="1607.8" y="171.9" width="1.8" height="36.6" fill="#111"/>
<rect x="1606.2" y="179.8" width="5" height="27.3" fill="#c12a3c"/>
<rect x="1614.3" y="202.5" width="1.8" height="47.0" fill="#111"/>
<rect x="1612.7" y="205.7" width="5" height="30.1" fill="#c12a3c"/>
<rect x="1622.3" y="233.1" width="1.8" height="5.5" fill="#111"/>
<rect x="1620.7" y="233.1" width="5" height="5.5" fill="#008296"/>
<rect x="1630.2" y="195.6" width="1.8" height="38.8" fill="#111"/>
<rect x="1628.6" y="198.9" width="5" height="35.5" fill="#008296"/>
<rect x="1636.8" y="194.3" width="1.8" height="20.5" fill="#111"/>
<rect x="1635.2" y="198.9" width="5" height="6.8" fill="#c12a3c"/>
<rect x="1644.7" y="193.7" width="1.8" height="16.4" fill="#111"/>
<rect x="1643.1" y="197.5" width="5" height="8.2" fill="#008296"/>
<rect x="1652.6" y="183.9" width="1.8" height="39.1" fill="#111"/>
<rect x="1651.0" y="197.5" width="5" height="12.6" fill="#c12a3c"/>
<rect x="1659.2" y="195.6" width="1.8" height="16.4" fill="#111"/>
<rect x="1657.6" y="197.5" width="5" height="12.6" fill="#008296"/>
<rect x="1667.1" y="196.7" width="1.8" height="1.6" fill="#111"/>
<rect x="1665.6" y="197.0" width="4.8" height="1.6" fill="#111"/>
<rect x="1675.0" y="196.7" width="1.8" height="2.2" fill="#111"/>
<rect x="1673.5" y="197.0" width="4.8" height="1.6" fill="#111"/>
<rect x="1681.6" y="195.6" width="1.8" height="4.9" fill="#111"/>
<rect x="1680.0" y="195.6" width="5" height="4.9" fill="#008296"/>
<polyline points="0.0,163.4 6.8,157.4 12.3,156.6 21.9,150.5 28.7,152.7 38.3,158.2 45.1,161.5 50.5,151.4 62.8,145.1 82.0,135.0 95.6,130.1 110.7,129.5 117.5,134.2 128.4,139.6 140.7,143.7 153.0,137.7 163.9,128.7 170.8,119.7 179.0,117.8 185.8,122.4 194.0,123.2 207.7,131.4 218.6,141.0 229.5,156.0 240.4,169.7 250.9,179.2 263.2,194.3 275.5,212.0 286.4,224.3 297.4,235.2 306.9,246.2 313.8,250.3 320.6,249.7 327.4,245.6 335.6,247.5 343.8,249.5 352.0,245.6 360.2,244.0 368.4,239.9 376.6,237.4 384.8,228.4 393.0,214.8 401.2,198.4 409.4,184.7 417.6,176.5 425.8,162.8 436.7,143.7 447.7,127.3 455.8,119.1 462.7,122.4 470.9,122.4 479.1,133.3 488.2,135.0 493.7,136.9 500.5,135.5 507.3,140.4 515.5,143.7 523.7,151.1 530.5,156.6 542.8,156.6 556.5,156.6 567.4,157.9 575.6,156.6 582.5,157.4 589.3,150.5 597.5,146.4 605.7,147.0 612.5,148.6 619.3,147.3 627.5,147.0 635.7,153.3 643.9,157.4 650.8,157.9 657.6,156.8 668.5,161.5 679.5,165.6 690.4,167.8 704.0,165.6 715.0,166.4 723.2,174.3 730.0,177.3 759.7,200.0 769.2,209.6 777.4,217.8 785.6,232.8 793.8,245.1 802.0,254.6 810.2,262.8 821.1,272.4 829.3,281.4 837.5,285.2 844.1,284.4 850.2,278.3 855.0,263.8 859.8,246.9 863.5,220.4 867.1,194.5 873.6,199.8 881.6,181.7 888.8,195.0 896.1,201.1 904.5,209.5 915.4,216.7 926.3,224.0 935.9,237.3 948.0,257.8 956.4,271.1 964.9,285.6 971.7,292.1 979.4,307.3 986.6,325.4 993.4,341.1 1001.1,348.8 1009.6,347.9 1016.4,364.3 1023.2,356.1 1032.2,367.0 1041.0,354.8 1054.6,341.1 1068.3,330.2 1082.0,321.1 1090.2,305.6 1099.7,301.5 1106.0,308.9 1114.8,293.3 1125.7,282.3 1136.6,271.4 1147.5,273.3 1157.1,274.2 1165.3,272.2 1172.1,274.7 1185.8,272.8 1202.2,272.0 1215.8,275.0 1229.5,279.6 1240.4,278.3 1250.0,276.1 1253.7,274.3 1267.3,269.3 1281.0,264.4 1293.3,261.7 1308.3,262.5 1322.0,265.8 1335.6,267.2 1349.3,265.8 1360.2,263.1 1369.8,258.4 1376.6,253.0 1384.8,240.7 1393.0,228.4 1401.2,217.4 1409.4,205.1 1417.6,184.6 1425.8,165.5 1436.7,156.0 1449.0,140.4 1458.6,137.7 1469.5,131.4 1475.0,130.0 1480.4,130.0 1490.9,134.2 1501.9,150.0 1515.5,154.6 1526.4,163.4 1537.4,167.5 1546.9,168.9 1556.5,163.4 1567.4,158.7 1578.4,154.6 1586.6,151.9 1597.5,151.9 1607.0,151.1 1615.2,146.4 1622.1,143.7 1633.0,145.1 1652.1,147.3 1668.5,147.0 1681.4,147.0" fill="none" stroke="#ff7f0e" stroke-width="1.6" stroke-linejoin="round" />
<polyline points="0.0,356.8 10.9,343.2 20.5,329.5 28.7,315.8 36.9,294.0 43.7,279.0 50.5,274.0 58.7,275.7 71.0,274.9 82.0,275.7 92.9,274.0 103.8,270.2 112.0,262.6 120.2,255.2 129.8,242.1 139.3,230.6 147.5,226.2 155.7,229.8 163.9,242.1 170.8,263.9 177.6,296.7 185.8,311.7 192.6,317.2 202.2,324.0 213.1,322.7 226.8,324.6 237.7,323.2 245.5,327.6 255.0,325.4 267.3,326.8 278.3,326.2 290.5,326.8 298.7,321.9 312.4,318.6 322.0,328.1 332.9,331.7 343.8,333.1 350.7,334.2 358.9,332.2 367.0,333.1 375.2,337.7 384.8,344.5 393.0,350.0 403.9,355.5 414.9,359.6 428.5,359.6 436.7,358.2 447.7,351.4 455.8,344.5 462.7,337.7 469.5,318.6 477.7,298.1 486.8,277.6 493.7,261.2 500.5,250.3 507.3,239.3 515.5,228.4 525.1,218.9 534.6,212.0 545.6,207.9 559.2,206.6 572.9,204.4 579.7,206.6 585.2,214.8 592.0,225.7 600.2,235.2 611.1,247.5 619.3,254.4 627.5,264.5 635.7,267.5 643.9,268.9 652.1,277.6 660.3,291.3 668.5,303.6 676.7,315.8 684.9,321.3 691.7,332.2 698.2,344.8 706.4,359.8 714.6,374.9 722.8,385.2 731.0,389.9 739.2,395.4 750.1,396.7 761.0,396.7 769.2,398.9 777.4,400.8 784.3,395.4 791.1,385.8 799.3,383.9 810.9,385.9 821.9,387.8 830.1,386.5 836.9,385.4 843.7,388.7 849.2,399.6 854.6,429.6 860.1,465.2 865.6,498.0 871.0,530.7 876.5,560.8 882.0,582.7 890.2,599.0 898.4,608.6 909.3,611.9 918.9,612.7 925.7,608.6 939.3,605.9 948.9,604.0 957.1,608.6 963.9,609.4 972.1,603.1 980.3,596.3 987.2,590.0 994.0,589.5 1002.2,593.0 1009.0,588.1 1015.8,571.7 1024.0,549.9 1032.2,530.2 1040.4,526.6 1050.0,526.1 1054.1,525.8 1063.1,526.4 1074.3,528.8 1082.5,531.3 1090.7,526.9 1098.9,519.8 1101.5,508.9 1103.3,500.1 1106.6,485.9 1114.8,472.2 1125.7,461.3 1136.6,451.7 1143.4,444.9 1150.3,428.5 1161.2,414.9 1172.1,401.2 1188.5,393.0 1202.2,376.6 1215.8,360.2 1225.4,352.0 1237.7,349.3 1250.9,348.6 1264.6,349.4 1278.3,350.8 1285.1,349.9 1294.6,350.5 1305.6,344.5 1313.8,334.4 1324.7,331.6 1331.5,331.6 1341.1,333.6 1354.8,333.6 1365.7,333.6 1375.2,333.0 1384.8,339.0 1395.7,349.9 1406.7,359.5 1417.6,365.5 1428.5,372.3 1442.2,382.7 1450.4,372.6 1458.6,367.2 1466.8,359.5 1475.0,347.2 1483.2,330.8 1485.5,326.8 1490.9,313.1 1496.4,291.3 1504.6,272.1 1512.8,255.7 1521.0,239.3 1529.2,227.0 1538.7,218.0 1548.3,216.1 1559.2,214.2 1568.8,215.3 1578.4,218.3 1589.3,218.0 1600.2,216.9 1607.0,218.3 1611.1,224.3 1616.6,229.8 1624.8,233.9 1633.0,235.8 1643.9,237.4 1660.3,235.8 1671.3,236.6 1681.4,236.6" fill="none" stroke="#ff7f0e" stroke-width="1.6" stroke-linejoin="round" />
<polyline points="0.0,259.3 10.9,249.7 21.9,239.3 30.1,232.5 41.0,221.6 50.5,212.6 58.7,211.5 71.0,207.9 87.4,203.8 103.8,199.7 112.0,195.6 123.0,194.3 136.6,188.8 148.9,182.5 157.1,182.5 163.9,185.2 174.9,202.5 185.8,218.0 192.6,220.2 202.2,225.7 211.7,227.9 224.0,233.9 235.0,243.4 248.2,253.0 259.1,258.5 270.1,265.3 281.0,272.1 290.5,278.1 298.7,279.8 308.3,283.6 322.0,288.5 328.8,287.7 341.1,290.4 352.0,289.9 365.7,286.6 379.3,287.7 387.5,285.8 398.5,279.0 409.4,272.1 417.6,269.4 425.8,262.6 436.7,253.8 447.7,241.3 455.8,232.0 464.0,229.8 470.9,220.2 479.1,217.5 488.2,205.2 496.4,197.0 504.6,190.2 512.8,186.9 526.4,186.9 540.1,182.8 553.8,181.4 570.2,181.1 581.1,180.1 589.3,185.5 597.5,188.8 608.4,195.6 619.3,201.1 630.3,208.7 638.5,211.5 646.7,214.8 657.6,225.7 668.5,233.9 679.5,242.1 687.7,244.8 699.6,257.4 709.1,264.2 717.3,273.8 725.5,280.6 737.8,288.8 747.4,291.0 758.3,297.0 769.2,305.2 780.2,312.6 789.7,314.2 799.3,319.7 810.2,325.7 821.1,331.1 829.3,334.7 838.9,335.2 848.5,338.5 853.9,344.8 860.8,351.6 867.6,354.9 871.6,375.0 879.2,381.8 887.4,387.3 894.3,398.2 903.8,407.8 914.8,413.3 925.7,416.0 933.9,421.4 944.8,431.0 955.7,440.6 965.3,447.4 974.9,450.1 983.1,457.0 991.3,465.2 1000.8,470.6 1009.0,469.3 1013.7,466.8 1023.2,454.5 1038.3,443.0 1054.6,434.0 1071.0,428.5 1082.0,427.2 1090.2,417.6 1098.4,410.8 1109.3,393.0 1120.2,378.0 1131.1,367.0 1139.3,360.2 1143.4,358.9 1153.0,349.3 1163.9,342.5 1174.9,336.2 1191.3,331.5 1207.7,322.0 1218.6,316.5 1232.2,314.3 1250.0,312.4 1256.4,312.5 1275.5,309.0 1294.6,305.7 1305.6,303.5 1312.4,299.9 1322.0,299.4 1343.8,300.8 1360.2,299.4 1371.1,296.7 1382.1,292.6 1391.6,287.9 1397.1,287.1 1406.7,280.3 1417.6,273.4 1428.5,268.0 1442.2,265.8 1449.0,257.0 1455.8,254.3 1466.8,246.1 1480.4,232.5 1488.2,224.3 1495.0,217.5 1501.9,216.1 1510.1,207.4 1521.0,199.7 1534.6,193.7 1548.3,190.2 1564.7,187.4 1581.1,186.6 1594.8,184.7 1604.3,184.7 1611.1,187.4 1622.1,188.8 1635.7,190.7 1652.1,192.1 1668.5,192.1 1681.4,192.1" fill="none" stroke="#33cccc" stroke-width="3.3" stroke-linejoin="round" stroke-linecap="round"/>
<line x1="957.6" y1="558.7" x2="1697.6" y2="211.5" stroke="#ff0d1a" stroke-width="1.5"/>
<line x1="1586" y1="148.2" x2="1697.6" y2="206.8" stroke="#3355ee" stroke-width="1.5"/>
<polygon points="953.1,575.3 962.1,575.3 957.6,566.3" fill="#ff0000"/>
<polygon points="1610.8,266.5 1619.8,266.5 1615.3,257.5" fill="#ff0000"/>
<polygon points="1581.8,132 1590.8,132 1586.3,141" fill="#008000"/>
<polygon points="1648.9,167 1657.9,167 1653.4,176" fill="#008000"/>
</g>
<defs><clipPath id="c70"><rect x="0" y="718" width="1896" height="62.549999999999955"/></clipPath><clipPath id="c30"><rect x="0" y="849.4" width="1896" height="64.60000000000002"/></clipPath></defs>
<polygon points="0,780.55 0.0,796.3 7.6,787.0 15.1,784.2 22.1,781.6 29.8,778.1 37.8,782.2 45.3,780.6 52.7,779.7 60.0,781.0 67.4,786.2 74.8,785.0 82.5,781.0 89.9,791.7 97.4,798.8 104.6,797.8 112.3,808.5 119.7,813.0 127.2,819.0 134.8,826.1 142.3,829.2 149.7,827.1 157.1,832.6 164.6,838.9 172.0,859.5 179.7,859.5 187.1,838.9 194.6,834.6 202.0,836.2 209.5,825.7 216.9,826.5 224.5,821.7 232.0,830.2 239.4,831.2 246.9,839.3 254.3,839.9 261.8,840.3 269.4,843.7 276.9,830.6 284.3,830.2 291.8,829.8 299.2,835.2 306.8,833.6 314.3,836.2 321.7,849.8 329.2,848.4 336.6,829.8 344.1,823.1 351.5,802.8 359.2,806.9 366.6,799.8 374.0,800.4 381.7,794.7 389.1,788.7 396.6,786.6 404.0,779.5 411.5,785.6 418.9,787.2 426.4,781.0 433.8,778.7 441.2,780.8 448.7,777.9 456.3,793.7 463.8,809.9 471.2,797.4 478.7,800.2 486.1,792.3 493.8,797.8 501.2,809.5 508.7,808.5 516.1,807.3 523.5,802.4 531.0,807.7 538.4,801.2 546.1,807.3 553.5,807.3 561.0,804.9 568.4,806.5 575.9,806.3 583.3,818.4 590.7,837.7 598.4,833.6 605.8,834.6 613.3,827.1 620.7,834.2 628.2,836.8 635.8,821.7 643.3,818.6 650.7,833.2 658.1,840.3 665.6,834.2 673.2,840.5 680.7,836.0 688.1,840.3 695.6,849.4 703.0,853.9 710.5,855.1 717.9,859.9 725.6,846.4 733.0,848.2 740.4,832.8 747.9,836.2 755.3,825.7 763.0,827.5 770.4,826.3 777.9,822.1 785.3,814.0 792.8,812.7 800.0,818.0 807.6,819.6 815.1,835.2 822.7,837.3 830.2,823.7 837.8,820.4 845.3,833.2 852.7,845.4 860.2,862.6 867.6,869.2 875.1,844.3 882.5,850.4 889.9,815.6 897.6,824.1 905.0,819.4 912.5,819.0 919.9,818.2 927.4,819.2 934.8,823.7 942.5,827.1 949.9,829.8 957.3,835.8 964.8,818.6 972.4,820.8 979.9,815.6 987.3,815.4 994.8,816.6 1002.2,814.6 1009.9,810.9 1017.3,808.3 1024.7,809.3 1032.2,802.6 1039.8,804.4 1047.3,804.0 1054.7,806.1 1062.2,806.5 1069.6,802.4 1077.3,804.9 1084.7,799.4 1092.2,790.1 1099.6,794.3 1107.0,798.2 1114.7,793.7 1122.1,790.3 1129.6,795.3 1137.0,789.9 1144.5,794.3 1152.1,810.3 1159.6,809.9 1167.0,814.6 1174.4,809.5 1181.9,806.9 1189.5,800.8 1197.4,803.2 1204.4,805.7 1211.9,804.4 1219.3,807.3 1226.8,804.2 1234.2,798.8 1241.9,802.8 1249.3,803.6 1256.7,795.3 1264.2,797.0 1271.6,795.9 1279.1,793.9 1286.7,796.1 1294.2,793.9 1301.6,816.6 1309.1,818.2 1316.5,810.7 1324.1,819.4 1331.6,818.0 1339.0,821.3 1346.5,815.0 1353.9,819.0 1361.4,802.2 1369.0,794.9 1376.5,797.0 1383.9,787.6 1391.3,783.0 1398.8,779.9 1406.4,779.3 1413.9,772.9 1421.3,774.1 1428.8,771.0 1436.4,779.9 1443.9,777.7 1451.3,791.3 1458.8,792.9 1466.2,788.4 1473.6,784.8 1481.1,796.3 1488.7,800.4 1496.2,796.1 1503.6,810.5 1511.1,804.9 1518.5,797.2 1526.2,803.6 1533.6,803.0 1541.0,802.0 1548.5,798.8 1555.9,790.7 1563.4,795.1 1570.8,792.7 1578.5,789.3 1585.9,796.3 1593.4,804.0 1600.9,807.1 1608.3,820.0 1615.8,832.6 1623.2,832.4 1630.7,814.4 1638.1,816.4 1645.5,813.8 1653.0,819.0 1660.4,813.8 1668.1,813.8 1675.5,813.6 1682.6,813.0 1682.6,780.55" fill="#b0b0b0" clip-path="url(#c70)"/>
<polygon points="0,849.4 0.0,796.3 7.6,787.0 15.1,784.2 22.1,781.6 29.8,778.1 37.8,782.2 45.3,780.6 52.7,779.7 60.0,781.0 67.4,786.2 74.8,785.0 82.5,781.0 89.9,791.7 97.4,798.8 104.6,797.8 112.3,808.5 119.7,813.0 127.2,819.0 134.8,826.1 142.3,829.2 149.7,827.1 157.1,832.6 164.6,838.9 172.0,859.5 179.7,859.5 187.1,838.9 194.6,834.6 202.0,836.2 209.5,825.7 216.9,826.5 224.5,821.7 232.0,830.2 239.4,831.2 246.9,839.3 254.3,839.9 261.8,840.3 269.4,843.7 276.9,830.6 284.3,830.2 291.8,829.8 299.2,835.2 306.8,833.6 314.3,836.2 321.7,849.8 329.2,848.4 336.6,829.8 344.1,823.1 351.5,802.8 359.2,806.9 366.6,799.8 374.0,800.4 381.7,794.7 389.1,788.7 396.6,786.6 404.0,779.5 411.5,785.6 418.9,787.2 426.4,781.0 433.8,778.7 441.2,780.8 448.7,777.9 456.3,793.7 463.8,809.9 471.2,797.4 478.7,800.2 486.1,792.3 493.8,797.8 501.2,809.5 508.7,808.5 516.1,807.3 523.5,802.4 531.0,807.7 538.4,801.2 546.1,807.3 553.5,807.3 561.0,804.9 568.4,806.5 575.9,806.3 583.3,818.4 590.7,837.7 598.4,833.6 605.8,834.6 613.3,827.1 620.7,834.2 628.2,836.8 635.8,821.7 643.3,818.6 650.7,833.2 658.1,840.3 665.6,834.2 673.2,840.5 680.7,836.0 688.1,840.3 695.6,849.4 703.0,853.9 710.5,855.1 717.9,859.9 725.6,846.4 733.0,848.2 740.4,832.8 747.9,836.2 755.3,825.7 763.0,827.5 770.4,826.3 777.9,822.1 785.3,814.0 792.8,812.7 800.0,818.0 807.6,819.6 815.1,835.2 822.7,837.3 830.2,823.7 837.8,820.4 845.3,833.2 852.7,845.4 860.2,862.6 867.6,869.2 875.1,844.3 882.5,850.4 889.9,815.6 897.6,824.1 905.0,819.4 912.5,819.0 919.9,818.2 927.4,819.2 934.8,823.7 942.5,827.1 949.9,829.8 957.3,835.8 964.8,818.6 972.4,820.8 979.9,815.6 987.3,815.4 994.8,816.6 1002.2,814.6 1009.9,810.9 1017.3,808.3 1024.7,809.3 1032.2,802.6 1039.8,804.4 1047.3,804.0 1054.7,806.1 1062.2,806.5 1069.6,802.4 1077.3,804.9 1084.7,799.4 1092.2,790.1 1099.6,794.3 1107.0,798.2 1114.7,793.7 1122.1,790.3 1129.6,795.3 1137.0,789.9 1144.5,794.3 1152.1,810.3 1159.6,809.9 1167.0,814.6 1174.4,809.5 1181.9,806.9 1189.5,800.8 1197.4,803.2 1204.4,805.7 1211.9,804.4 1219.3,807.3 1226.8,804.2 1234.2,798.8 1241.9,802.8 1249.3,803.6 1256.7,795.3 1264.2,797.0 1271.6,795.9 1279.1,793.9 1286.7,796.1 1294.2,793.9 1301.6,816.6 1309.1,818.2 1316.5,810.7 1324.1,819.4 1331.6,818.0 1339.0,821.3 1346.5,815.0 1353.9,819.0 1361.4,802.2 1369.0,794.9 1376.5,797.0 1383.9,787.6 1391.3,783.0 1398.8,779.9 1406.4,779.3 1413.9,772.9 1421.3,774.1 1428.8,771.0 1436.4,779.9 1443.9,777.7 1451.3,791.3 1458.8,792.9 1466.2,788.4 1473.6,784.8 1481.1,796.3 1488.7,800.4 1496.2,796.1 1503.6,810.5 1511.1,804.9 1518.5,797.2 1526.2,803.6 1533.6,803.0 1541.0,802.0 1548.5,798.8 1555.9,790.7 1563.4,795.1 1570.8,792.7 1578.5,789.3 1585.9,796.3 1593.4,804.0 1600.9,807.1 1608.3,820.0 1615.8,832.6 1623.2,832.4 1630.7,814.4 1638.1,816.4 1645.5,813.8 1653.0,819.0 1660.4,813.8 1668.1,813.8 1675.5,813.6 1682.6,813.0 1682.6,849.4" fill="#b0b0b0" clip-path="url(#c30)"/>
<rect x="0" y="779.75" width="1896" height="1.6" fill="#c2c2c2"/>
<rect x="0" y="848.6" width="1896" height="1.6" fill="#c2c2c2"/>
<polyline points="0.0,796.3 7.6,787.0 15.1,784.2 22.1,781.6 29.8,778.1 37.8,782.2 45.3,780.6 52.7,779.7 60.0,781.0 67.4,786.2 74.8,785.0 82.5,781.0 89.9,791.7 97.4,798.8 104.6,797.8 112.3,808.5 119.7,813.0 127.2,819.0 134.8,826.1 142.3,829.2 149.7,827.1 157.1,832.6 164.6,838.9 172.0,859.5 179.7,859.5 187.1,838.9 194.6,834.6 202.0,836.2 209.5,825.7 216.9,826.5 224.5,821.7 232.0,830.2 239.4,831.2 246.9,839.3 254.3,839.9 261.8,840.3 269.4,843.7 276.9,830.6 284.3,830.2 291.8,829.8 299.2,835.2 306.8,833.6 314.3,836.2 321.7,849.8 329.2,848.4 336.6,829.8 344.1,823.1 351.5,802.8 359.2,806.9 366.6,799.8 374.0,800.4 381.7,794.7 389.1,788.7 396.6,786.6 404.0,779.5 411.5,785.6 418.9,787.2 426.4,781.0 433.8,778.7 441.2,780.8 448.7,777.9 456.3,793.7 463.8,809.9 471.2,797.4 478.7,800.2 486.1,792.3 493.8,797.8 501.2,809.5 508.7,808.5 516.1,807.3 523.5,802.4 531.0,807.7 538.4,801.2 546.1,807.3 553.5,807.3 561.0,804.9 568.4,806.5 575.9,806.3 583.3,818.4 590.7,837.7 598.4,833.6 605.8,834.6 613.3,827.1 620.7,834.2 628.2,836.8 635.8,821.7 643.3,818.6 650.7,833.2 658.1,840.3 665.6,834.2 673.2,840.5 680.7,836.0 688.1,840.3 695.6,849.4 703.0,853.9 710.5,855.1 717.9,859.9 725.6,846.4 733.0,848.2 740.4,832.8 747.9,836.2 755.3,825.7 763.0,827.5 770.4,826.3 777.9,822.1 785.3,814.0 792.8,812.7 800.0,818.0 807.6,819.6 815.1,835.2 822.7,837.3 830.2,823.7 837.8,820.4 845.3,833.2 852.7,845.4 860.2,862.6 867.6,869.2 875.1,844.3 882.5,850.4 889.9,815.6 897.6,824.1 905.0,819.4 912.5,819.0 919.9,818.2 927.4,819.2 934.8,823.7 942.5,827.1 949.9,829.8 957.3,835.8 964.8,818.6 972.4,820.8 979.9,815.6 987.3,815.4 994.8,816.6 1002.2,814.6 1009.9,810.9 1017.3,808.3 1024.7,809.3 1032.2,802.6 1039.8,804.4 1047.3,804.0 1054.7,806.1 1062.2,806.5 1069.6,802.4 1077.3,804.9 1084.7,799.4 1092.2,790.1 1099.6,794.3 1107.0,798.2 1114.7,793.7 1122.1,790.3 1129.6,795.3 1137.0,789.9 1144.5,794.3 1152.1,810.3 1159.6,809.9 1167.0,814.6 1174.4,809.5 1181.9,806.9 1189.5,800.8 1197.4,803.2 1204.4,805.7 1211.9,804.4 1219.3,807.3 1226.8,804.2 1234.2,798.8 1241.9,802.8 1249.3,803.6 1256.7,795.3 1264.2,797.0 1271.6,795.9 1279.1,793.9 1286.7,796.1 1294.2,793.9 1301.6,816.6 1309.1,818.2 1316.5,810.7 1324.1,819.4 1331.6,818.0 1339.0,821.3 1346.5,815.0 1353.9,819.0 1361.4,802.2 1369.0,794.9 1376.5,797.0 1383.9,787.6 1391.3,783.0 1398.8,779.9 1406.4,779.3 1413.9,772.9 1421.3,774.1 1428.8,771.0 1436.4,779.9 1443.9,777.7 1451.3,791.3 1458.8,792.9 1466.2,788.4 1473.6,784.8 1481.1,796.3 1488.7,800.4 1496.2,796.1 1503.6,810.5 1511.1,804.9 1518.5,797.2 1526.2,803.6 1533.6,803.0 1541.0,802.0 1548.5,798.8 1555.9,790.7 1563.4,795.1 1570.8,792.7 1578.5,789.3 1585.9,796.3 1593.4,804.0 1600.9,807.1 1608.3,820.0 1615.8,832.6 1623.2,832.4 1630.7,814.4 1638.1,816.4 1645.5,813.8 1653.0,819.0 1660.4,813.8 1668.1,813.8 1675.5,813.6 1682.6,813.0" fill="none" stroke="#000" stroke-width="1.6" stroke-linejoin="round" />
<rect x="0" y="715.7" width="1896" height="2.1" fill="#b0b0b0"/>
<rect x="0" y="914" width="1898" height="2" fill="#949494"/>
<rect x="1896" y="63" width="2" height="853" fill="#808080"/>
<rect x="1898" y="155.5" width="3.5" height="1.4" fill="#808080"/>
<text x="1905.8" y="161.1" font-family="Liberation Sans, sans-serif" font-size="17" font-weight="normal" fill="#333" text-anchor="start" textLength="53.4" lengthAdjust="spacingAndGlyphs">45,000</text>
<rect x="1898" y="294.90000000000003" width="3.5" height="1.4" fill="#808080"/>
<text x="1905.8" y="300.5" font-family="Liberation Sans, sans-serif" font-size="17" font-weight="normal" fill="#333" text-anchor="start" textLength="53.4" lengthAdjust="spacingAndGlyphs">42,500</text>
<rect x="1898" y="435.90000000000003" width="3.5" height="1.4" fill="#808080"/>
<text x="1905.8" y="441.5" font-family="Liberation Sans, sans-serif" font-size="17" font-weight="normal" fill="#333" text-anchor="start" textLength="53.4" lengthAdjust="spacingAndGlyphs">40,000</text>
<rect x="1898" y="576.5999999999999" width="3.5" height="1.4" fill="#808080"/>
<text x="1905.8" y="582.1999999999999" font-family="Liberation Sans, sans-serif" font-size="17" font-weight="normal" fill="#333" text-anchor="start" textLength="53.4" lengthAdjust="spacingAndGlyphs">37,500</text>
<rect x="1898" y="779.8499999999999" width="3.4" height="1.4" fill="#888"/>
<text x="1905.5" y="785.05" font-family="Liberation Sans, sans-serif" font-size="17" font-weight="normal" fill="#222" text-anchor="start" textLength="18.9" lengthAdjust="spacingAndGlyphs">70</text>
<rect x="1898" y="848.6999999999999" width="3.4" height="1.4" fill="#888"/>
<text x="1905.5" y="853.9" font-family="Liberation Sans, sans-serif" font-size="17" font-weight="normal" fill="#222" text-anchor="start" textLength="18.9" lengthAdjust="spacingAndGlyphs">30</text>
<rect x="62" y="916" width="2" height="7.5" fill="#808080"/>
<text x="46.8" y="941.5" font-family="Liberation Sans, sans-serif" font-size="17.3" font-weight="normal" fill="#363636" text-anchor="start" textLength="32.9" lengthAdjust="spacingAndGlyphs">Dec</text>
<rect x="264" y="916" width="2" height="7.5" fill="#808080"/>
<rect x="459" y="916" width="2" height="7.5" fill="#808080"/>
<text x="444.4" y="941.5" font-family="Liberation Sans, sans-serif" font-size="17.3" font-weight="normal" fill="#363636" text-anchor="start" textLength="31.9" lengthAdjust="spacingAndGlyphs">Feb</text>
<rect x="638" y="916" width="2" height="7.5" fill="#808080"/>
<text x="623.3" y="941.5" font-family="Liberation Sans, sans-serif" font-size="17.3" font-weight="normal" fill="#363636" text-anchor="start" textLength="31.9" lengthAdjust="spacingAndGlyphs">Mar</text>
<rect x="840" y="916" width="2" height="7.5" fill="#808080"/>
<text x="826.9" y="941.5" font-family="Liberation Sans, sans-serif" font-size="17.3" font-weight="normal" fill="#363636" text-anchor="start" textLength="28.8" lengthAdjust="spacingAndGlyphs">Apr</text>
<rect x="1027" y="916" width="2" height="7.5" fill="#808080"/>
<text x="1010.8" y="941.5" font-family="Liberation Sans, sans-serif" font-size="17.3" font-weight="normal" fill="#363636" text-anchor="start" textLength="34.9" lengthAdjust="spacingAndGlyphs">May</text>
<rect x="1222.2" y="916" width="2" height="7.5" fill="#808080"/>
<text x="1208.6" y="941.5" font-family="Liberation Sans, sans-serif" font-size="17.3" font-weight="normal" fill="#363636" text-anchor="start" textLength="29.8" lengthAdjust="spacingAndGlyphs">Jun</text>
<rect x="1416" y="916" width="2" height="7.5" fill="#808080"/>
<text x="1405.5" y="941.5" font-family="Liberation Sans, sans-serif" font-size="17.3" font-weight="normal" fill="#363636" text-anchor="start" textLength="23.6" lengthAdjust="spacingAndGlyphs">Jul</text>
<rect x="1619" y="916" width="2" height="7.5" fill="#808080"/>
<text x="1603.8" y="941.5" font-family="Liberation Sans, sans-serif" font-size="17.3" font-weight="normal" fill="#363636" text-anchor="start" textLength="32.9" lengthAdjust="spacingAndGlyphs">Aug</text>
<rect x="1835" y="916" width="2" height="7.5" fill="#808080"/>
<text x="1817.3" y="941.5" font-family="Liberation Sans, sans-serif" font-size="17.3" font-weight="normal" fill="#363636" text-anchor="start" textLength="38.0" lengthAdjust="spacingAndGlyphs">Sept</text>
<rect x="264" y="923.7" width="2" height="2" fill="#8a8a8a"/>
<rect x="264" y="930" width="2" height="2" fill="#8a8a8a"/>
<rect x="264" y="936.3" width="2" height="2" fill="#8a8a8a"/>
<rect x="264" y="942.6" width="2" height="2" fill="#8a8a8a"/>
<path d="M1883.2,147 L1897.2,134.3 H1961.1 Q1964.6,134.3 1964.6,137.8 V156.2 Q1964.6,159.7 1961.1,159.7 H1897.2 Z" fill="#ff7f0e" stroke="#ff7f0e" stroke-width="0.8" stroke-linejoin="round"/>
<text x="1905.9" y="153.1" font-family="Liberation Sans, sans-serif" font-size="17" font-weight="normal" fill="#000" text-anchor="start" textLength="53.3" lengthAdjust="spacingAndGlyphs">45,160</text>
<path d="M1883.2,191.5 L1897.2,178.8 H1961.1 Q1964.6,178.8 1964.6,182.3 V200.7 Q1964.6,204.2 1961.1,204.2 H1897.2 Z" fill="#33cccc" stroke="#33cccc" stroke-width="0.8" stroke-linejoin="round"/>
<path d="M1883.2,196.6 L1897.2,183.9 H1985.0 Q1988.5,183.9 1988.5,187.4 V205.79999999999998 Q1988.5,209.29999999999998 1985.0,209.29999999999998 H1897.2 Z" fill="#5f5aa8" stroke="#5f5aa8" stroke-width="0.8" stroke-linejoin="round"/>
<text x="1906" y="202.8" font-family="Liberation Sans, sans-serif" font-size="17" font-weight="normal" fill="#fff" text-anchor="start" textLength="78.2" lengthAdjust="spacingAndGlyphs">44,263.50</text>
<path d="M1883.2,236.7 L1897.2,224.0 H1961.1 Q1964.6,224.0 1964.6,227.5 V245.89999999999998 Q1964.6,249.39999999999998 1961.1,249.39999999999998 H1897.2 Z" fill="#ff7f0e" stroke="#ff7f0e" stroke-width="0.8" stroke-linejoin="round"/>
<text x="1905.9" y="242.8" font-family="Liberation Sans, sans-serif" font-size="17" font-weight="normal" fill="#000" text-anchor="start" textLength="53.3" lengthAdjust="spacingAndGlyphs">43,563</text>
<path d="M1883.2,812.5 L1897.2,800.0 H1926.1 Q1929.6,800.0 1929.6,803.5 V821.5 Q1929.6,825.0 1926.1,825.0 H1897.2 Z" fill="#000" stroke="#000" stroke-width="0.8" stroke-linejoin="round"/>
<text x="1905.5" y="818.6" font-family="Liberation Sans, sans-serif" font-size="17" font-weight="normal" fill="#fff" text-anchor="start" textLength="18.9" lengthAdjust="spacingAndGlyphs">51</text>
<rect x="0" y="0" width="1988" height="61.6" fill="#fff"/>
<rect x="0" y="61.6" width="1988" height="1.6" fill="#6a6a6a"/>
<rect x="638" y="47.5" width="2" height="14" fill="#cfcfcf"/>
<rect x="695.8" y="47.5" width="2" height="14" fill="#cfcfcf"/>
<rect x="1982" y="10.9" width="2" height="42.9" fill="#d6d6d6"/>
<text x="12" y="37.8" font-family="Liberation Sans, sans-serif" font-size="19.9" font-weight="bold" fill="#2b2b2b" text-anchor="start" textLength="48.4" lengthAdjust="spacingAndGlyphs">Daily</text>
<polygon points="72,28.4 87.6,28.4 79.8,36.2" fill="#4d4d4d"/>
<text x="118.7" y="37.8" font-family="Liberation Sans, sans-serif" font-size="19.9" font-weight="bold" fill="#2b2b2b" text-anchor="start" textLength="92.6" lengthAdjust="spacingAndGlyphs">Technical</text>
<polygon points="221.4,28.4 237.0,28.4 229.20000000000002,36.2" fill="#4d4d4d"/>
<text x="269.6" y="37.8" font-family="Liberation Sans, sans-serif" font-size="19.9" font-weight="bold" fill="#2b2b2b" text-anchor="start" textLength="70.8" lengthAdjust="spacingAndGlyphs">Display</text>
<polygon points="351.2,28.4 366.8,28.4 359.0,36.2" fill="#4d4d4d"/>
<text x="399.1" y="37.8" font-family="Liberation Sans, sans-serif" font-size="19.9" font-weight="bold" fill="#2b2b2b" text-anchor="start" textLength="50.3" lengthAdjust="spacingAndGlyphs">More</text>
<polygon points="459.2,28.4 474.8,28.4 467.0,36.2" fill="#4d4d4d"/>
<path d="M508.6,37.5 V22.6 Q508.6,21.1 510.1,21.1 H515.6 Q516.4,21.1 517,21.7 L519.2,23.9 Q519.8,24.5 520.6,24.5 H525 Q526.6,24.5 526.6,26.1 V26.9" fill="none" stroke="#333" stroke-width="1.3" stroke-linecap="round"/>
<path d="M517,28.2 H530 Q531.7,28.2 531,29.7 L527.2,38.4 Q526.5,39.9 525,39.9 H511.2 Q509.8,39.9 510.5,38.5 L514.7,29.6 Q515.4,28.2 517,28.2 Z" fill="#333"/>
<path d="M508.6,37 Q508.6,39.6 510.4,39.4" fill="none" stroke="#333" stroke-width="1.3"/>
<path fill-rule="evenodd" fill="#333" d="M565.4,18.3 H582.4 Q583.2,18.3 583.8,18.9 L586.3,21.6 Q586.9,22.2 586.9,23 V39.8 Q586.9,42 584.7,42 H565.4 Q563.2,42 563.2,39.8 V20.5 Q563.2,18.3 565.4,18.3 Z M569.2,19.5 V25.6 Q569.2,26.5 570.1,26.5 H579.3 Q580.2,26.5 580.2,25.6 V19.5 Z M567.6,30 H581.8 Q583,30 583,31.2 V39 Q583,40.2 581.8,40.2 H567.6 Q566.4,40.2 566.4,39 V31.2 Q566.4,30 567.6,30 Z"/>
<rect x="575.9" y="21" width="2.8" height="3.8" fill="#333"/>
<rect x="616.1" y="25.8" width="23.9" height="5.2" fill="#000"/>
<rect x="673.4" y="25.8" width="24.6" height="5.2" fill="#000"/>
<rect x="683.1" y="16.3" width="5.6" height="24.3" fill="#000"/>
<text x="17.8" y="107" font-family="Liberation Sans, sans-serif" font-size="17.6" font-weight="bold" fill="#222" text-anchor="start" textLength="181.7" lengthAdjust="spacingAndGlyphs">WALL STREET, DAILY</text>
<rect x="0" y="594" width="180" height="45" fill="#fff" opacity="0.9"/>
<rect x="188" y="594" width="214" height="45" fill="#fff" opacity="0.9"/>
<text x="8.5" y="624.9" font-family="Liberation Sans, sans-serif" font-size="16.3" font-weight="bold" fill="#222" text-anchor="start" textLength="46.9" lengthAdjust="spacingAndGlyphs">VWAP</text>
<text x="61.3" y="624.9" font-family="Liberation Sans, sans-serif" font-size="16.3" font-weight="normal" fill="#222" text-anchor="start" textLength="60.4" lengthAdjust="spacingAndGlyphs">20 1 2 3</text>
<g transform="translate(140,620.7)" fill="#9e9e9e"><path fill-rule="evenodd" d="M-6.6,0 a6.6,6.6 0 1,0 13.2,0 a6.6,6.6 0 1,0 -13.2,0 Z M-3.3,0 a3.3,3.3 0 1,1 6.6,0 a3.3,3.3 0 1,1 -6.6,0 Z"/><rect x="-1.9" y="-9.5" width="3.8" height="4.4" transform="rotate(0)"/><rect x="-1.9" y="-9.5" width="3.8" height="4.4" transform="rotate(45)"/><rect x="-1.9" y="-9.5" width="3.8" height="4.4" transform="rotate(90)"/><rect x="-1.9" y="-9.5" width="3.8" height="4.4" transform="rotate(135)"/><rect x="-1.9" y="-9.5" width="3.8" height="4.4" transform="rotate(180)"/><rect x="-1.9" y="-9.5" width="3.8" height="4.4" transform="rotate(225)"/><rect x="-1.9" y="-9.5" width="3.8" height="4.4" transform="rotate(270)"/><rect x="-1.9" y="-9.5" width="3.8" height="4.4" transform="rotate(315)"/></g>
<g stroke="#9e9e9e" stroke-width="4"><line x1="162.0" y1="615.4" x2="173.2" y2="626.6"/><line x1="162.0" y1="626.6" x2="173.2" y2="615.4"/></g>
<text x="196" y="624.9" font-family="Liberation Sans, sans-serif" font-size="16.3" font-weight="bold" fill="#222" text-anchor="start" textLength="105.7" lengthAdjust="spacingAndGlyphs">AUTO TREND</text>
<text x="307.6" y="624.9" font-family="Liberation Sans, sans-serif" font-size="16.3" font-weight="normal" fill="#222" text-anchor="start" textLength="36.2" lengthAdjust="spacingAndGlyphs">3 7 2</text>
<g transform="translate(362.6,620.7)" fill="#9e9e9e"><path fill-rule="evenodd" d="M-6.6,0 a6.6,6.6 0 1,0 13.2,0 a6.6,6.6 0 1,0 -13.2,0 Z M-3.3,0 a3.3,3.3 0 1,1 6.6,0 a3.3,3.3 0 1,1 -6.6,0 Z"/><rect x="-1.9" y="-9.5" width="3.8" height="4.4" transform="rotate(0)"/><rect x="-1.9" y="-9.5" width="3.8" height="4.4" transform="rotate(45)"/><rect x="-1.9" y="-9.5" width="3.8" height="4.4" transform="rotate(90)"/><rect x="-1.9" y="-9.5" width="3.8" height="4.4" transform="rotate(135)"/><rect x="-1.9" y="-9.5" width="3.8" height="4.4" transform="rotate(180)"/><rect x="-1.9" y="-9.5" width="3.8" height="4.4" transform="rotate(225)"/><rect x="-1.9" y="-9.5" width="3.8" height="4.4" transform="rotate(270)"/><rect x="-1.9" y="-9.5" width="3.8" height="4.4" transform="rotate(315)"/></g>
<g stroke="#9e9e9e" stroke-width="4"><line x1="384.0" y1="615.4" x2="395.20000000000005" y2="626.6"/><line x1="384.0" y1="626.6" x2="395.20000000000005" y2="615.4"/></g>
<rect x="0" y="731" width="63.5" height="39" fill="#fff"/>
<text x="8.5" y="755.8" font-family="Liberation Sans, sans-serif" font-size="16.3" font-weight="bold" fill="#222" text-anchor="start" textLength="23.9" lengthAdjust="spacingAndGlyphs">RSI</text>
<text x="39" y="755.8" font-family="Liberation Sans, sans-serif" font-size="16.3" font-weight="normal" fill="#222" text-anchor="start" textLength="18" lengthAdjust="spacingAndGlyphs">14</text>
<g transform="translate(74.9,752.4)" fill="#9e9e9e"><path fill-rule="evenodd" d="M-6.6,0 a6.6,6.6 0 1,0 13.2,0 a6.6,6.6 0 1,0 -13.2,0 Z M-3.3,0 a3.3,3.3 0 1,1 6.6,0 a3.3,3.3 0 1,1 -6.6,0 Z"/><rect x="-1.9" y="-9.5" width="3.8" height="4.4" transform="rotate(0)"/><rect x="-1.9" y="-9.5" width="3.8" height="4.4" transform="rotate(45)"/><rect x="-1.9" y="-9.5" width="3.8" height="4.4" transform="rotate(90)"/><rect x="-1.9" y="-9.5" width="3.8" height="4.4" transform="rotate(135)"/><rect x="-1.9" y="-9.5" width="3.8" height="4.4" transform="rotate(180)"/><rect x="-1.9" y="-9.5" width="3.8" height="4.4" transform="rotate(225)"/><rect x="-1.9" y="-9.5" width="3.8" height="4.4" transform="rotate(270)"/><rect x="-1.9" y="-9.5" width="3.8" height="4.4" transform="rotate(315)"/></g>
<g stroke="#9e9e9e" stroke-width="4"><line x1="97.0" y1="747.0" x2="108.19999999999999" y2="758.2"/><line x1="97.0" y1="758.2" x2="108.19999999999999" y2="747.0"/></g>
<path d="M137.8,762 V743.2 M129,752 L137.8,743.2 L146.6,752" fill="none" stroke="#8a8a8a" stroke-width="1.5"/>
</svg>
</body></html>
